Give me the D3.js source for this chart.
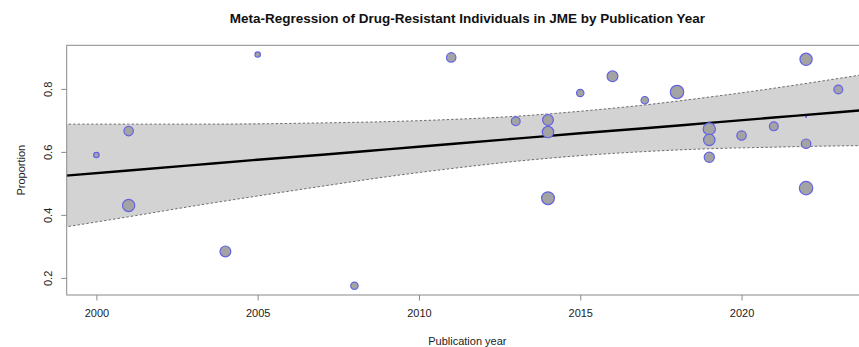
<!DOCTYPE html>
<html>
<head>
<meta charset="utf-8">
<script src="https://cdn.jsdelivr.net/npm/d3@7/dist/d3.min.js"></script>
<style>
  html, body { margin: 0; padding: 0; background: #fff; }
  svg { display: block; font-family: "Liberation Sans", Arial, sans-serif; }
</style>
</head>
<body>
<svg id="chart" width="859" height="347"></svg>
<script>
// Study-level estimates
const years = [2000, 2001, 2001, 2004, 2005, 2008, 2011, 2013, 2014, 2014, 2014, 2015, 2016,
               2017, 2018, 2019, 2019, 2019, 2020, 2021, 2022, 2022, 2022, 2022, 2023];
const proportions = [0.590, 0.666, 0.430, 0.284, 0.909, 0.175, 0.900, 0.697, 0.701, 0.663, 0.453, 0.787, 0.840,
                     0.764, 0.790, 0.673, 0.638, 0.583, 0.652, 0.681, 0.894, 0.711, 0.626, 0.485, 0.798];
// Study weights (%)
const weights = [1.32, 3.09, 4.77, 3.88, 1.32, 2.11, 3.09, 2.77, 3.88, 4.25, 5.18, 2.11, 3.88,
                 2.11, 5.60, 4.77, 4.25, 3.53, 3.09, 2.77, 4.77, 0.20, 3.09, 5.60, 2.77];

// Fitted meta-regression line and 95% confidence band
const bandYears = [1999, 2001, 2003, 2005, 2007, 2009, 2011, 2013, 2015, 2017, 2019, 2021, 2023, 2024];
const fitted    = [0.524, 0.541, 0.558, 0.575, 0.591, 0.608, 0.625, 0.642, 0.659, 0.675, 0.692, 0.709, 0.726, 0.734];
const ciLower   = [0.361, 0.394, 0.428, 0.460, 0.491, 0.521, 0.547, 0.570, 0.588, 0.601, 0.610, 0.615, 0.619, 0.620];
const ciUpper   = [0.688, 0.688, 0.688, 0.689, 0.692, 0.696, 0.703, 0.713, 0.729, 0.749, 0.774, 0.802, 0.833, 0.849];

const xTicks = [2000, 2005, 2010, 2015, 2020];
const yTicks = [0.2, 0.4, 0.6, 0.8];

const titleText = "Meta-Regression of Drug-Resistant Individuals in JME by Publication Year";
const xLabel = "Publication year";
const yLabel = "Proportion";

const svg = d3.select("#chart");
const plot = { left: 66.7, right: 868, top: 45.3, bottom: 295 };

function padded(ext) {
  const p = (ext[1] - ext[0]) * 0.04;
  return [ext[0] - p, ext[1] + p];
}

const x = d3.scaleLinear().domain(padded(d3.extent(years))).range([plot.left, plot.right]);
const y = d3.scaleLinear().domain(padded(d3.extent(proportions))).range([plot.bottom, plot.top]);
const rScale = d3.scaleLinear()
  .domain([Math.sqrt(d3.min(weights)), Math.sqrt(d3.max(weights))])
  .range([1, 7.3]);

svg.append("defs").append("clipPath").attr("id", "plotClip")
  .append("rect")
  .attr("x", plot.left).attr("y", plot.top)
  .attr("width", plot.right - plot.left).attr("height", plot.bottom - plot.top);

const inner = svg.append("g").attr("clip-path", "url(#plotClip)");

const band = bandYears.map((yr, i) => ({ yr, fit: fitted[i], lo: ciLower[i], hi: ciUpper[i] }));

// Confidence band
inner.append("path")
  .datum(band)
  .attr("fill", "#d3d3d3")
  .attr("d", d3.area().x(d => x(d.yr)).y0(d => y(d.lo)).y1(d => y(d.hi)).curve(d3.curveMonotoneX));

const bound = key => d3.line().x(d => x(d.yr)).y(d => y(d[key])).curve(d3.curveMonotoneX);
["lo", "hi"].forEach(key => {
  inner.append("path")
    .datum(band)
    .attr("fill", "none")
    .attr("stroke", "#6e6e6e")
    .attr("stroke-width", 1)
    .attr("stroke-dasharray", "2.5,2")
    .attr("d", bound(key));
});

// Regression line
inner.append("path")
  .datum(band)
  .attr("fill", "none")
  .attr("stroke", "#000")
  .attr("stroke-width", 2.4)
  .attr("d", bound("fit"));

// Study points, sized by weight
const pts = years.map((yr, i) => ({ yr, p: proportions[i], w: weights[i] }));
inner.append("g")
  .selectAll("circle")
  .data(pts)
  .join("circle")
  .attr("cx", d => x(d.yr))
  .attr("cy", d => y(d.p))
  .attr("r", d => Math.max(rScale(Math.sqrt(d.w)) - 0.6, 0.5))
  .attr("fill", "#a3a3a3")
  .attr("stroke", "#6262e2")
  .attr("stroke-width", 1.2);

// Plot frame
svg.append("rect")
  .attr("x", plot.left).attr("y", plot.top)
  .attr("width", plot.right - plot.left).attr("height", plot.bottom - plot.top)
  .attr("fill", "none").attr("stroke", "#8a8a8a").attr("stroke-width", 1);

// Axes
const xAxis = svg.append("g")
  .attr("transform", `translate(0,${plot.bottom})`)
  .call(d3.axisBottom(x).tickValues(xTicks).tickFormat(d3.format("d")).tickSize(5.5).tickPadding(9));
xAxis.select(".domain").remove();

const yAxis = svg.append("g")
  .attr("transform", `translate(${plot.left},0)`)
  .call(d3.axisLeft(y).tickValues(yTicks).tickFormat(d3.format(".1f")).tickSize(5.5).tickPadding(0));
yAxis.select(".domain").remove();
yAxis.selectAll(".tick text")
  .attr("transform", "rotate(-90)")
  .attr("x", 0).attr("y", -14.5)
  .attr("dy", 0)
  .attr("text-anchor", "middle");

[xAxis, yAxis].forEach(a => {
  a.selectAll(".tick line").attr("stroke", "#8a8a8a");
  a.selectAll(".tick text").attr("fill", "#222").style("font-size", "11px")
    .style("font-family", "'Liberation Sans', Arial, sans-serif");
});

// Titles
const cx = (plot.left + plot.right) / 2;
svg.append("text")
  .attr("x", cx).attr("y", 23)
  .attr("text-anchor", "middle")
  .style("font-size", "13.5px").style("font-weight", "bold").attr("fill", "#111")
  .text(titleText);

svg.append("text")
  .attr("x", cx).attr("y", 345)
  .attr("text-anchor", "middle")
  .style("font-size", "11px").attr("fill", "#222")
  .text(xLabel);

svg.append("text")
  .attr("transform", `translate(24.5,${(plot.top + plot.bottom) / 2}) rotate(-90)`)
  .attr("text-anchor", "middle")
  .style("font-size", "11px").attr("fill", "#222")
  .text(yLabel);
</script>
</body>
</html>
